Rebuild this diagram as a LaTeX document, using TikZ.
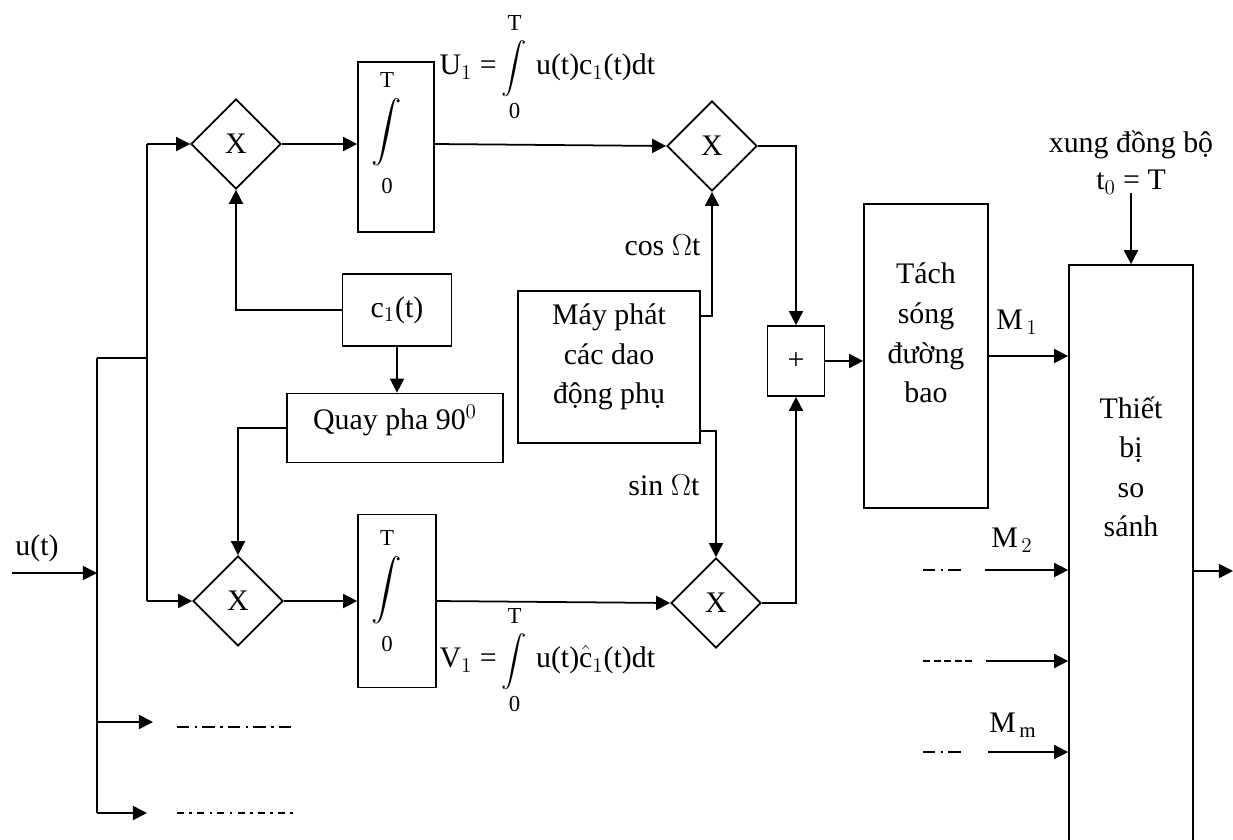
\documentclass[tikz,border=0pt]{standalone}
\usepackage{amsmath}
\usepackage{fontspec}
\setmainfont{Liberation Serif}
\usetikzlibrary{arrows.meta,shapes.geometric}

\newcommand{\intsign}[1]{\mathop{\mbox{\fontsize{#1}{#1}\selectfont$\displaystyle\int$}}}
\newcommand{\limtxt}[2]{\raisebox{#1}{\fontsize{13}{15}\selectfont #2}}
\newcommand{\intbox}{$\intsign{17}\limits_{\limtxt{-5pt}{0}}^{\limtxt{3pt}{T}}$}
\newcommand{\intform}{$\intsign{14.5}\limits_{\limtxt{-2pt}{0}}^{\limtxt{2pt}{T}}$}

\begin{document}
\begin{tikzpicture}[x=0.02cm, y=-0.02cm, line width=1pt,
    font=\fontsize{17}{22.5}\selectfont,
    block/.style={rectangle, draw, inner sep=2pt, align=center},
    mult/.style={diamond, draw, aspect=1, minimum size=1.8cm, inner sep=0pt},
    intsym/.style={inner sep=0pt},
    lbl/.style={inner sep=1pt, align=center},
    arr/.style={-{Triangle[length=8pt, width=8pt]}},
    dashdotA/.style={line width=0.8pt, dash pattern=on 7pt off 3pt on 1.5pt off 3pt},
    dashdotB/.style={line width=0.8pt, dash pattern=on 4pt off 3pt on 1.5pt off 3pt},
    dashshort/.style={line width=0.8pt, dash pattern=on 4pt off 2pt}]

\clip (0,0) rectangle (1233,839);

% branch 1: correlators
\node[mult] (mulA) at (236,144) {X};
\node[mult] (mulB) at (238,601) {X};
\node[block, minimum width=1.52cm, minimum height=3.4cm] (int1) at (396,147) {};
\node[intsym] (int1s) at (387,133) {\intbox};
\node[block, minimum width=1.56cm, minimum height=3.46cm] (int2) at (397,601) {};
\node[intsym] (int2s) at (387,591) {\intbox};
\node[block, minimum width=2.18cm, minimum height=1.44cm] (c1) at (397,310) {c$_1$(t)};
\node[block, minimum width=4.32cm, minimum height=1.38cm] (quay) at (395,428) {};
\node[lbl] (quayt) at (395,420) {Quay pha 90$^0$};
\node[block, minimum width=3.64cm, minimum height=3.04cm] (gen) at (609,367) {};
\node[lbl] (gent) at (609,357) {Máy phát\\các dao\\động phụ};
\node[mult] (mulC) at (712,146) {X};
\node[mult] (mulD) at (716,603) {X};
\node[block, minimum width=1.14cm, minimum height=1.4cm] (sum) at (796,361) {+};
\node[block, minimum width=2.48cm, minimum height=6.08cm] (tach) at (926,356) {};
\node[lbl] (tacht) at (926,333) {Tách\\sóng\\đường\\bao};
\node[block, minimum width=2.48cm, minimum height=12cm] (thiet) at (1131,565) {};
\node[lbl] (thiett) at (1131,467) {Thiết\\bị\\so\\sánh};

% labels
\node[lbl] (ut) at (37,548) {u(t)};
\node[lbl, anchor=west] (U1) at (437,67) {U$_1$ =\hspace{3pt}\intform\hspace{5pt}u(t)c$_1$(t)dt};
\node[lbl, anchor=west] (V1) at (437,660) {V$_1$ =\hspace{3pt}\intform\hspace{5pt}u(t)$\hat{\mathrm{c}}_1$(t)dt};
\node[lbl, anchor=east] (cosl) at (703,245) {cos $\Omega$t};
\node[lbl, anchor=east] (sinl) at (702,485) {sin $\Omega$t};
\node[lbl] (sync) at (1131,145) {xung đồng bộ};
\node[lbl] (t0) at (1131,182) {t$_0$ = T};
\node[lbl] (M1) at (1017,322) {M$_{\,1}$};
\node[lbl] (M2) at (1012,540) {M$_{\,2}$};
\node[lbl] (Mm) at (1013,725) {M$_{\,\mathrm{m}}$};

% input bus
\coordinate (in) at (12,573);
\coordinate (busA) at (97,573);
\coordinate (busTop) at (97,358);
\coordinate (busBot) at (97,813);
\coordinate (bus2) at (147,358);
\coordinate (br3) at (97,722);
\coordinate (br4) at (97,813);
\draw[arr] (in) -- (busA);
\draw (busTop) -- (busBot);
\draw (busTop) -- (bus2);
\draw (bus2 |- mulA.west) -- (bus2 |- mulB.west);
\draw[arr] (bus2 |- mulA.west) -- (mulA.west);
\draw[arr] (bus2 |- mulB.west) -- (mulB.west);
\draw[arr] (br3) -- ++(56,0);
\draw[arr] (br4) -- ++(50,0);
\draw[dashdotA] (177,727) -- (292,727);
\draw[dashdotB] (177,813) -- (295,813);

% signal paths
\draw[arr] (mulA.east) -- (mulA.east -| int1.west);
\draw[arr] (mulA.east -| int1.east) -- (mulC.west);
\draw[arr] (mulB.east) -- (mulB.east -| int2.west);
\draw[arr] (mulB.east -| int2.east) -- (mulD.west);
\draw[arr] (c1.west) -| (mulA.south);
\draw[arr] (c1.south) -- (c1.south |- quay.north);
\draw[arr] (quay.west) -| (mulB.north);
\draw[arr] ([yshift=-0.52cm]gen.north east) -| (mulC.south);
\draw[arr] ([yshift=0.26cm]gen.south east) -| (mulD.north);
\draw[arr] (mulC.east) -| (sum.north);
\draw[arr] (mulD.east) -| (sum.south);
\draw[arr] (sum.east) -- (sum.east -| tach.west);
\draw[arr] (tach.east) -- (tach.east -| thiet.west);

% comparator inputs
\coordinate (syncin) at (1131,193);
\draw[arr] (syncin) -- (thiet.north);
\coordinate (m2in) at (985,570);
\coordinate (m3in) at (986,661);
\coordinate (mmin) at (988,752);
\draw[arr] (m2in) -- (m2in -| thiet.west);
\draw[arr] (m3in) -- (m3in -| thiet.west);
\draw[arr] (mmin) -- (mmin -| thiet.west);
\draw[dashdotA] (923,570) -- (962,570);
\draw[dashshort] (923,661) -- (975,661);
\draw[dashdotA] (923,752) -- (962,752);
\coordinate (out) at (1233,571);
\draw[arr] (thiet.east |- out) -- (out);

\end{tikzpicture}
\end{document}
